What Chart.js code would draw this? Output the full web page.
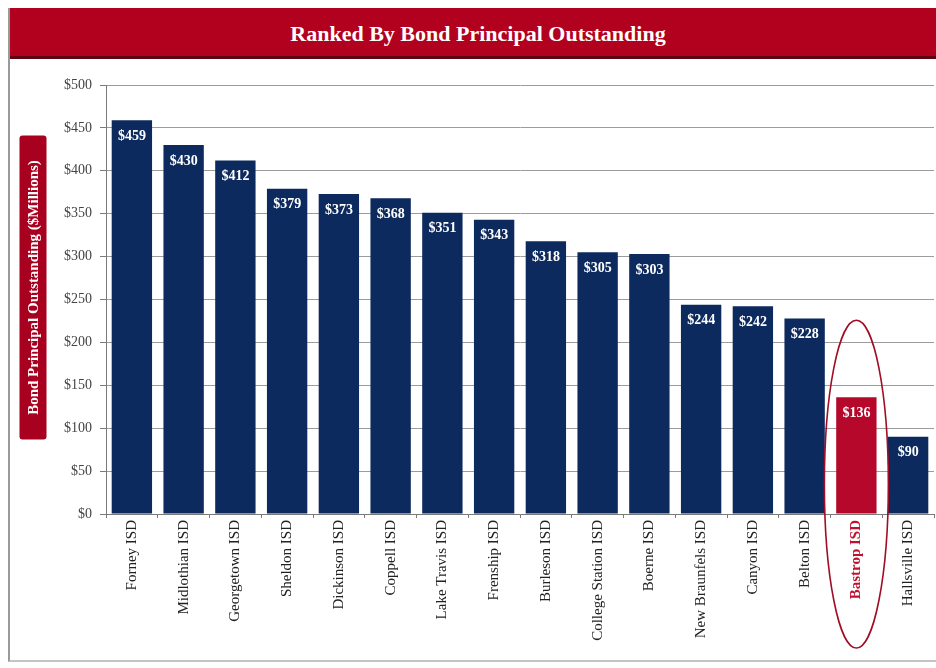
<!DOCTYPE html>
<html>
<head>
<meta charset="utf-8">
<script src="https://cdn.jsdelivr.net/npm/chart.js@4/dist/chart.umd.min.js"></script>
<style>
    body { margin: 0; background: #fff; width: 936px; height: 668px; overflow: hidden; font-family: "Liberation Serif", "DejaVu Serif", serif; }
    #frame { position: absolute; left: 8px; top: 8px; width: 940px; height: 652px; border-left: 2px solid #9a9a9a; border-bottom: 2px solid #c4c4c4; }
    #banner { position: absolute; left: 0; top: 0; width: 100%; height: 51px; background: #b2001f; border-bottom: 3px solid #5e0514; color: #fff; font-weight: bold; font-size: 22px; line-height: 51px; text-align: center; padding-right: 4px; box-sizing: border-box; }
    #box { position: absolute; left: 2px; top: 56px; width: 926px; height: 596px; }
</style>
</head>
<body>
<div id="frame">
    <div id="banner">Ranked By Bond Principal Outstanding</div>
    <div id="box"><canvas id="bondChart"></canvas></div>
</div>
<script>
const districts = ["Forney ISD", "Midlothian ISD", "Georgetown ISD", "Sheldon ISD", "Dickinson ISD", "Coppell ISD",
    "Lake Travis ISD", "Frenship ISD", "Burleson ISD", "College Station ISD", "Boerne ISD", "New Braunfels ISD",
    "Canyon ISD", "Belton ISD", "Bastrop ISD", "Hallsville ISD"];
const principal = [459, 430, 412, 379, 373, 368, 351, 343, 318, 305, 303, 244, 242, 228, 136, 90];
const highlight = "Bastrop ISD";
const yTicks = [0, 50, 100, 150, 200, 250, 300, 350, 400, 450, 500];

const navy = '#0d2a5e';
const red = '#b5082b';
const serif = '"Liberation Serif", "DejaVu Serif", serif';

const hiIndex = districts.indexOf(highlight);

// white $ labels near the top of every bar
const barLabels = {
    id: 'barLabels',
    afterDatasetsDraw(chart) {
        const ctx = chart.ctx;
        const meta = chart.getDatasetMeta(0);
        ctx.save();
        ctx.fillStyle = '#ffffff';
        ctx.font = 'bold 14px ' + serif;
        ctx.textAlign = 'center';
        ctx.textBaseline = 'middle';
        meta.data.forEach((bar, i) => {
            ctx.fillText('$' + principal[i], bar.x, bar.y + 16);
        });
        ctx.restore();
    }
};

// red box with the rotated axis title, and the ellipse round the highlighted district
const extras = {
    id: 'extras',
    afterDraw(chart) {
        const ctx = chart.ctx;
        const area = chart.chartArea;
        ctx.save();
        const cx = 21, cy = (area.top + area.bottom) / 2 - 12;
        const w = 27, h = 304;
        ctx.fillStyle = '#a8001f';
        ctx.beginPath();
        ctx.roundRect(cx - w / 2, cy - h / 2, w, h, 3);
        ctx.fill();
        ctx.translate(cx, cy);
        ctx.rotate(-Math.PI / 2);
        ctx.fillStyle = '#fff';
        ctx.font = 'bold 15px ' + serif;
        ctx.textAlign = 'center';
        ctx.textBaseline = 'middle';
        ctx.fillText('Bond Principal Outstanding ($Millions)', 0, 1);
        ctx.restore();

        const bar = chart.getDatasetMeta(0).data[hiIndex];
        const top = bar.y - 77;
        const bottom = area.bottom + 134;
        ctx.save();
        ctx.strokeStyle = '#a00d25';
        ctx.lineWidth = 1.6;
        ctx.beginPath();
        ctx.ellipse(bar.x, (top + bottom) / 2, 32, (bottom - top) / 2, 0, 0, Math.PI * 2);
        ctx.stroke();
        ctx.restore();
    }
};

new Chart(document.getElementById('bondChart'), {
    type: 'bar',
    data: {
        labels: districts,
        datasets: [{
            data: principal,
            backgroundColor: districts.map(d => d === highlight ? red : navy),
            barPercentage: 0.78,
            categoryPercentage: 1
        }]
    },
    options: {
        responsive: true,
        maintainAspectRatio: false,
        animation: false,
        layout: { padding: { top: 21, right: 4, left: 0, bottom: 0 } },
        plugins: {
            legend: { display: false },
            tooltip: { enabled: false }
        },
        scales: {
            y: {
                min: 0,
                max: 500,
                afterFit(scale) { scale.width = 94; },
                afterBuildTicks(scale) { scale.ticks = yTicks.map(v => ({ value: v })); },
                border: { display: true, color: '#7a7a7a', width: 1 },
                grid: { color: '#9c9c9c', lineWidth: 1, tickLength: 6, tickColor: '#7a7a7a' },
                ticks: {
                    color: '#444',
                    font: { family: serif, size: 14 },
                    padding: 8,
                    callback: v => '$' + v
                }
            },
            x: {
                afterFit(scale) { scale.height = 146; },
                border: { display: true, color: '#7a7a7a', width: 1 },
                grid: { offset: true, drawOnChartArea: false, tickLength: 4, tickColor: '#7a7a7a' },
                ticks: {
                    minRotation: 90,
                    maxRotation: 90,
                    autoSkip: false,
                    padding: 2,
                    color: c => c.index === hiIndex ? '#c2102f' : '#222',
                    font: c => ({ family: serif, size: 15, weight: c.index === hiIndex ? 'bold' : 'normal' })
                }
            }
        }
    },
    plugins: [barLabels, extras]
});
</script>
</body>
</html>
